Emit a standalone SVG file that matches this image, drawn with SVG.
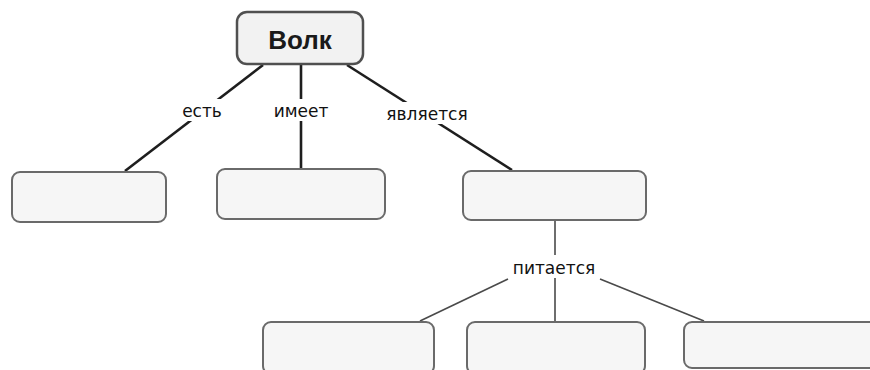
<svg xmlns="http://www.w3.org/2000/svg" width="870" height="370" viewBox="0 0 870 370">
<style>
.box{fill:#f6f6f6;stroke:#6a6a6a;stroke-width:2}
.root{fill:#f2f2f2;stroke:#505050;stroke-width:2.5}
.c1{stroke:#1e1e1e;stroke-width:2.6;fill:none}
.c2{stroke:#4a4a4a;stroke-width:1.6;fill:none}
.lbl{font-family:"DejaVu Sans",Verdana,sans-serif;font-size:17px;fill:#111;text-anchor:middle}
.bg{fill:#ffffff}
</style>
<rect width="870" height="370" fill="#ffffff"/>
<g id="connectors">
<line class="c1" x1="263" y1="65" x2="125" y2="171"/>
<line class="c1" x1="301" y1="64" x2="301" y2="169"/>
<line class="c1" x1="347" y1="65" x2="512" y2="170"/>
<line class="c2" x1="555" y1="220" x2="555" y2="322"/>
<line class="c2" x1="508" y1="279" x2="420" y2="321"/>
<line class="c2" x1="600" y1="279" x2="704" y2="321"/>
<rect class="bg" x="178" y="99" width="48" height="22"/>
<rect class="bg" x="271" y="99" width="61" height="22"/>
<rect class="bg" x="383" y="102" width="90" height="22"/>
<rect class="bg" x="508" y="255" width="93" height="23"/>
<text class="lbl" x="202" y="117">есть</text>
<text class="lbl" x="301" y="117">имеет</text>
<text class="lbl" x="427" y="120">является</text>
<text class="lbl" x="554" y="274">питается</text>
</g>
<g id="node-root">
<rect class="root" x="237" y="12" width="126" height="52" rx="10"/>
<text x="300" y="49" font-family="'Liberation Sans',Arial,sans-serif" font-size="26" font-weight="bold" fill="#1a1a1a" text-anchor="middle">Волк</text>
</g>
<g id="node-1"><rect class="box" x="12" y="172" width="154" height="50" rx="8"/></g>
<g id="node-2"><rect class="box" x="217" y="169" width="168" height="50" rx="8"/></g>
<g id="node-3"><rect class="box" x="463" y="171" width="183" height="49" rx="8"/></g>
<g id="node-4"><rect class="box" x="263" y="322" width="171" height="52" rx="8"/></g>
<g id="node-5"><rect class="box" x="467" y="322" width="178" height="52" rx="8"/></g>
<g id="node-6"><rect class="box" x="684" y="322" width="200" height="46" rx="8"/></g>
</svg>
